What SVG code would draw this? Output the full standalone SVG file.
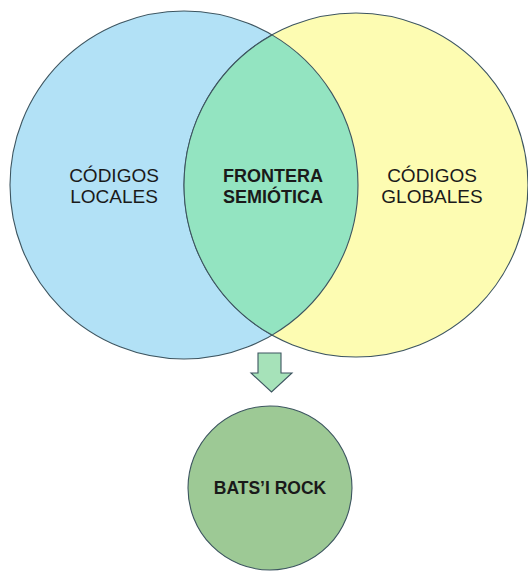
<svg xmlns="http://www.w3.org/2000/svg" width="528" height="571" viewBox="0 0 528 571">
  <style>
    .shape { stroke: #3d5560; stroke-width: 1.1; }
    .lbl { font-family: "Liberation Sans", Arial, sans-serif; font-size: 19px; fill: #1a1a1a; text-anchor: middle; }
    .bold { font-weight: bold; font-size: 18px; }
  </style>
  <rect width="528" height="571" fill="#ffffff"/>
  <g id="codigos-locales">
    <circle class="shape" cx="184" cy="185" r="174" fill="#b2e1f6"/>
  </g>
  <g id="codigos-globales">
    <circle class="shape" cx="356" cy="185" r="172" fill="#fdfcb2"/>
  </g>
  <g id="frontera-semiotica">
    <path class="shape" d="M 272 34.9 A 174 174 0 0 1 272 335.1 A 172 172 0 0 1 272 34.9 Z" fill="#93e4c1"/>
  </g>
  <g id="labels">
    <text class="lbl" x="114" y="182">CÓDIGOS</text>
    <text class="lbl" x="114" y="203">LOCALES</text>
    <text class="lbl bold" x="273" y="182">FRONTERA</text>
    <text class="lbl bold" x="273" y="203">SEMIÓTICA</text>
    <text class="lbl" x="432" y="182">CÓDIGOS</text>
    <text class="lbl" x="432" y="203">GLOBALES</text>
  </g>
  <g id="connectors">
    <path class="shape" d="M 258 353 L 281 353 L 281 373 L 292 373 L 271.5 392 L 251 373 L 258 373 Z" fill="#a6e2b9"/>
  </g>
  <g id="bats-i-rock">
    <circle class="shape" cx="270" cy="488" r="82" fill="#9dc995"/>
    <text class="lbl bold" x="270" y="494" style="font-size:17.5px">BATS’I ROCK</text>
  </g>
</svg>
